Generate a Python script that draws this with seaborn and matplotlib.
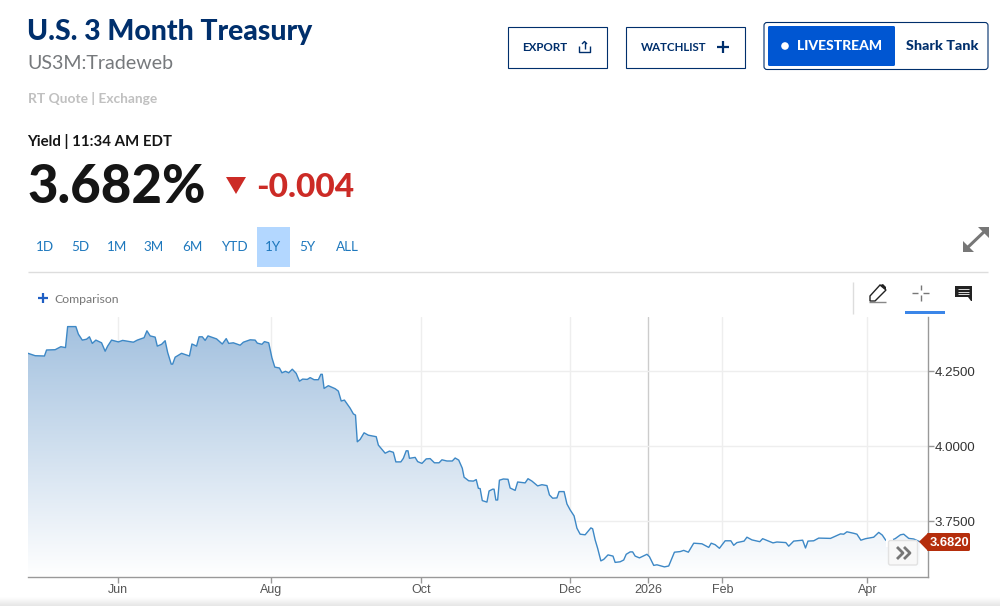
import numpy as np
import matplotlib
matplotlib.use("Agg")
import matplotlib.pyplot as plt
from matplotlib.colors import LinearSegmentedColormap
from matplotlib.patches import Rectangle, Polygon, FancyBboxPatch, Circle
import seaborn as sns

# x = trading session counted from the left edge of the chart, y = yield in %
sessions_a = [0,2.0,4.6,5.2,7.6,9.2,10.5,11.1,13.4,14.1,15.2,16.4,17.2,18.0,19.0,20.6,21.6,22.3,23.4,25.3,26.5,29.5,30.6,32.5,33.3,34.2,35.6,36.2,37.4,38.4,39.1,40.1,40.5,41.2,43.0,45.2,45.9,47.2,47.9,48.8,49.6,50.4,52.8,54.4,55.5,56.2,57.5,59.4,60.3,62.2,63.6,64.2,65.5,66.2,67.4,68.3,69.1,70.4,71.1,72.1,73.0,74.0,75.1,76.0,76.9,78.2,79.0,80.1,81.3,82.0,82.4,82.9,84.1,86.0,86.9,87.7,88.6]
yields_a = [4.310,4.302,4.301,4.321,4.322,4.332,4.329,4.399,4.399,4.374,4.354,4.357,4.365,4.343,4.354,4.345,4.317,4.334,4.354,4.348,4.353,4.347,4.354,4.362,4.385,4.368,4.364,4.334,4.340,4.352,4.313,4.274,4.274,4.297,4.310,4.301,4.341,4.334,4.365,4.365,4.353,4.368,4.358,4.341,4.359,4.343,4.345,4.337,4.347,4.355,4.354,4.344,4.340,4.349,4.345,4.295,4.264,4.261,4.245,4.250,4.245,4.257,4.243,4.217,4.224,4.223,4.229,4.222,4.222,4.240,4.240,4.193,4.202,4.192,4.184,4.151,4.154]
sessions_b = [90.2,91.1,91.7,92.2,93.0,94.1,95.3,97.5,98.1,99.1,100.0,101.2,102.3,103.0,104.4,105.1,105.9,106.4,106.8,108.4,109.1,110.3,111.5,112.6,113.8,115.1,115.9,117.3,118.8,119.6,120.6,121.6,122.1,123.4,124.7,125.5,126.1,126.6,127.2,128.5,129.1,130.1,130.5,131.0,131.5,132.0,133.1,134.4,135.0,136.4,137.1,139.2,140.0,141.1,142.7,143.9,145.3,146.0,146.9,148.1,148.7,150.1,150.9,151.8,152.9,153.7,154.6,156.0,157.6,158.1,158.8,159.5,160.4,161.2,162.4,163.8,164.4,165.8,166.8,167.5,168.6,169.3,170.0,171.2,173.3,174.0,175.2]
yields_b = [4.127,4.108,4.104,4.015,4.023,4.045,4.037,4.032,4.004,3.990,3.977,3.984,3.980,3.948,3.948,3.960,3.985,3.985,3.960,3.963,3.949,3.943,3.958,3.959,3.945,3.945,3.955,3.951,3.951,3.961,3.954,3.927,3.897,3.885,3.884,3.889,3.860,3.859,3.819,3.814,3.851,3.857,3.857,3.821,3.821,3.887,3.891,3.890,3.861,3.853,3.881,3.878,3.892,3.884,3.868,3.872,3.869,3.838,3.827,3.828,3.849,3.849,3.808,3.788,3.768,3.727,3.707,3.705,3.728,3.725,3.688,3.660,3.618,3.623,3.638,3.634,3.613,3.615,3.621,3.640,3.648,3.648,3.634,3.628,3.640,3.632,3.603]
sessions_c = [176.1,178.2,179.4,181.0,182.6,183.6,184.9,186.4,188.7,190.6,191.3,192.4,193.6,195.2,196.8,197.6,198.5,200.5,201.3,202.7,204.9,205.7,208.6,209.7,212.2,213.0,214.4,216.9,217.7,218.4,220.0,221.4,224.7,227.5,228.4,229.3,231.2,232.1,233.2,234.5,236.8,238.2,239.2,240.1,240.8,242.8,244.3,245.2,246.6,248.0,249.7]
yields_c = [3.605,3.598,3.601,3.647,3.649,3.653,3.647,3.677,3.675,3.663,3.677,3.672,3.660,3.685,3.685,3.670,3.679,3.684,3.697,3.688,3.682,3.692,3.678,3.681,3.679,3.667,3.684,3.687,3.661,3.684,3.685,3.694,3.693,3.708,3.707,3.715,3.710,3.707,3.687,3.692,3.697,3.713,3.704,3.688,3.682,3.692,3.705,3.707,3.693,3.691,3.682]
month_ticks = [25.2, 68.1, 110.1, 151.8, 173.6, 194.4, 235.0]
month_labels = ["Jun", "Aug", "Oct", "Dec", "2026", "Feb", "Apr"]
yield_ticks = [3.75, 4.00, 4.25]
yield_labels = ["3.7500", "4.0000", "4.2500"]
ranges = ["1D", "5D", "1M", "3M", "6M", "YTD", "1Y", "5Y", "ALL"]
last_value = 3.682

sessions = np.array(sessions_a + sessions_b + sessions_c)
yields = np.array(yields_a + yields_b + yields_c)

sns.set_theme(style="white")
W, H = 1000, 606
SANS = ["Lato", "DejaVu Sans"]
ARIAL = ["Liberation Sans", "DejaVu Sans"]
NAVY = "#002f6c"
fig = plt.figure(figsize=(W / 100, H / 100), dpi=100, facecolor="white")

# ------ chart ------
ax = fig.add_axes([28 / W, 1 - 577.3 / H, 900 / W, 260.3 / H], facecolor="white")
ax.set_xlim(0, 252)
ax.set_ylim(3.5633, 4.431)
ax.set_xticks(month_ticks, month_labels)
ax.set_yticks(yield_ticks, yield_labels)
ax.yaxis.tick_right()
ax.tick_params(axis="both", which="major", length=4, width=1, color="#999999",
               labelcolor="#555555", labelsize=9, bottom=True, right=True, left=False, pad=2)
for lab in ax.get_xticklabels() + ax.get_yticklabels():
    lab.set_family(ARIAL)
ax.tick_params(axis="x", pad=1)
ax.tick_params(axis="y", labelcolor="#333333", labelsize=9.6, pad=1)
ax.grid(True, color="#eeeeee", lw=1)
ax.set_axisbelow(True)
ax.get_xgridlines()[month_labels.index("2026")].set_color("#cccccc")
for s in ("top", "left"):
    ax.spines[s].set_visible(False)
for s in ("right", "bottom"):
    ax.spines[s].set_color("#999999")
    ax.spines[s].set_linewidth(1)

cmap = LinearSegmentedColormap.from_list("fade", ["#a0bfde", "#ffffff"])
poly = ax.fill_between(sessions, yields, 3.5633, color="none", lw=0)
grad = ax.imshow(np.linspace(0, 1, 256).reshape(-1, 1), cmap=cmap, aspect="auto",
                 extent=[0, 252, 3.5633, 4.431], origin="upper", zorder=1.5)
grad.set_clip_path(poly.get_paths()[0], ax.transData)
ax.set_xlim(0, 252)
ax.set_ylim(3.5633, 4.431)
sns.lineplot(x=sessions, y=yields, ax=ax, color="#3d88c6", lw=1.0, estimator=None,
             sort=False, zorder=3, legend=False)
ax.set_xlabel("")
ax.set_ylabel("")

# ------ page furniture, drawn in pixel coordinates ------
ui = fig.add_axes([0, 0, 1, 1], facecolor="none")
ui.set_xlim(0, W)
ui.set_ylim(H, 0)
ui.axis("off")
ui.grid(False)


def txt(x, y, s, size, color, weight="normal", ha="left", va="baseline", family=SANS, z=8):
    ui.text(x, y, s, fontsize=size, color=color, fontweight=weight, ha=ha, va=va, family=family, zorder=z)


def seg(xs, ys, color, lw=1.0, z=5):
    ui.plot(xs, ys, color=color, lw=lw, solid_capstyle="butt", zorder=z)


txt(27, 40, "U.S. 3 Month Treasury", 20.4, NAVY, "black")
txt(27.5, 69, "US3M:Tradeweb", 14.1, "#76797c")
txt(27.5, 103, "RT Quote | Exchange", 9.9, "#c0c0c0", "bold")
txt(27.5, 146, "Yield | 11:34 AM EDT", 10.8, "#151515", "bold")
txt(27, 203, "3.682%", 38, "#151515", "black")
ui.add_patch(Polygon([[226, 177], [246, 177], [236, 194]], color="#cc2b26", lw=0))
txt(256.5, 197, "-0.004", 24, "#cc2b26", "black")

# range selector
ui.add_patch(Rectangle((257, 227), 33, 40, color="#b3d7ff", lw=0))
for cx, r in zip([44.5, 80, 117, 153.5, 192, 234, 273, 307.5, 347], ranges):
    txt(cx, 247, r, 9.7, "#1e78bd", ha="center", va="center")
seg([28, 988], [271.5, 271.5], "#dddddd")

# comparison
seg([38, 48], [298, 298], "#1f5fc4", 1.6)
seg([43, 43], [293, 303], "#1f5fc4", 1.6)
txt(54, 299.5, "Comparison", 8.8, "#777777", va="center")

# toolbar
seg([852.5, 852.5], [282, 314], "#dddddd")
ui.add_patch(Rectangle((905, 311), 40, 3, color="#3b86e8", lw=0))
ui.add_patch(Polygon([[870, 296], [880, 285], [886, 290], [875, 301], [870, 301]], fill=False, ec="#222222", lw=1.0))
ui.add_patch(Polygon([[880, 285], [883, 284], [886, 287], [886, 290]], color="#222222", lw=0))
seg([869, 886], [301.5, 301.5], "#888888")
seg([912, 918], [292.5, 292.5], "#777777")
seg([923, 929], [292.5, 292.5], "#777777")
seg([920.5, 920.5], [285, 290], "#777777")
seg([920.5, 920.5], [295, 301], "#777777")
ui.add_patch(Polygon([[955, 286], [972, 286], [972, 301], [971, 301], [968, 297], [955, 297]], color="#222222", lw=0))
for yy in (289, 291.5, 294):
    seg([958, 969], [yy, yy], "#dddddd", 0.7, 6)

# buttons
ui.add_patch(Rectangle((507.5, 26.5), 99, 41, fill=False, ec=NAVY, lw=0.8))
txt(522, 47.5, "EXPORT", 8.4, NAVY, "bold", va="center")
seg([579, 579, 590, 590], [46, 52, 52, 46], NAVY, 1.0)
seg([584.5, 584.5], [42, 49], NAVY, 1.0)
seg([582, 584.5, 587], [44, 41.5, 44], NAVY, 1.0)
ui.add_patch(Rectangle((625.5, 26.5), 119, 41, fill=False, ec=NAVY, lw=0.8))
txt(641, 47.5, "WATCHLIST", 8.3, NAVY, "bold", va="center")
seg([717, 729], [47, 47], NAVY, 1.6)
seg([723, 723], [41, 53], NAVY, 1.6)
ui.add_patch(FancyBboxPatch((764, 22.5), 224, 47, boxstyle="round,pad=0,rounding_size=3", fill=False, ec=NAVY, lw=0.8))
ui.add_patch(FancyBboxPatch((768, 26), 127, 40, boxstyle="round,pad=0,rounding_size=1.5", fc="#0056d2", ec="none"))
ui.add_patch(Circle((785, 46), 3.8, color="white", lw=0))
txt(797, 45.5, "LIVESTREAM", 10, "white", "black", va="center")
txt(906, 46, "Shark Tank", 10.4, NAVY, "black", va="center")

# expand icon
ui.plot([965, 987], [250, 229], color="#777777", lw=2.2, zorder=5)
ui.add_patch(Polygon([[963, 252], [963, 241], [974, 252]], color="#777777", lw=0))
ui.add_patch(Polygon([[989, 227], [978, 227], [989, 238]], color="#777777", lw=0))

# last-value tag
ui.add_patch(FancyBboxPatch((927, 533), 43, 18, boxstyle="round,pad=0,rounding_size=1.5", fc="#b52e0c", ec="none", zorder=6))
ui.add_patch(Polygon([[919, 541.7], [928, 533], [928, 551]], color="#b52e0c", lw=0, zorder=6))
txt(949, 542.5, f"{last_value:.4f}", 9.3, "white", "bold", ha="center", va="center", family=ARIAL)

# scroll-to-latest button
ui.add_patch(Rectangle((886, 539), 7, 8, color="white", lw=0, zorder=6))
ui.add_patch(FancyBboxPatch((888.5, 540.5), 29, 24.5, boxstyle="round,pad=0,rounding_size=2", fc="#f8f8f8", ec="#e2e2e2", lw=1, zorder=6))
seg([897, 903, 897], [547, 553, 559], "#777777", 2, 7)
seg([904, 910, 904], [547, 553, 559], "#777777", 2, 7)

# shaded strip at the bottom of the page
strip = fig.add_axes([0, 0, 1, 9 / H])
strip.imshow(np.linspace(0, 1, 32).reshape(-1, 1),
             cmap=LinearSegmentedColormap.from_list("s", ["#ffffff", "#e6e6e6"]), aspect="auto", vmin=0, vmax=1)
strip.axis("off")

fig.savefig("out.png", dpi=100, facecolor="white")
